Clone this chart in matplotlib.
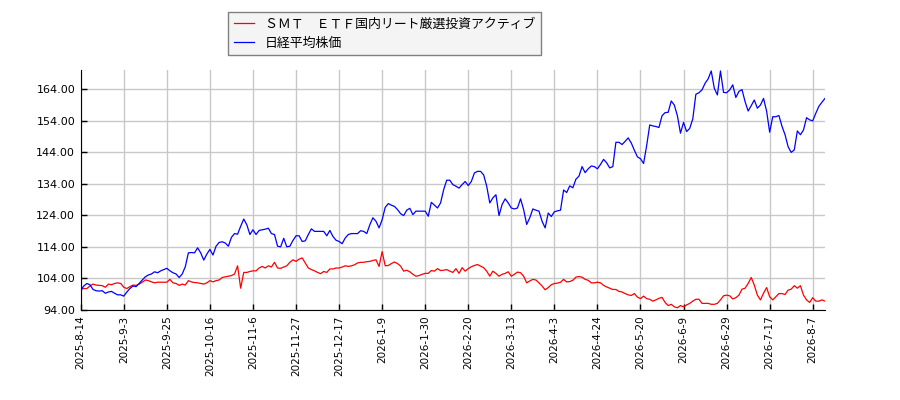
import matplotlib
matplotlib.use("Agg")
import matplotlib.pyplot as plt
import numpy as np

# data (trading-day index 0..242)
series_names = ["ＳＭＴ　ＥＴＦ国内リート厳選投資アクティブ", "日経平均株価"]

reit_values = [
    100.5, 100.8, 100.8, 101.6, 102.2, 101.9, 101.8, 101.7, 101.2, 102.2,
    102.0, 102.4, 102.6, 102.4, 101.2, 100.8, 101.4, 101.9, 101.8, 102.2,
    102.8, 103.5, 103.3, 102.9, 102.6, 102.8, 102.8, 102.8, 102.8, 103.7,
    102.6, 102.4, 101.8, 102.2, 101.9, 103.3, 102.9, 102.7, 102.6, 102.4,
    102.2, 102.6, 103.3, 102.9, 103.3, 103.5, 104.3, 104.5, 104.7, 104.9,
    105.4, 108.0, 100.9, 105.9, 105.9, 106.2, 106.4, 106.4, 107.3, 107.8,
    107.3, 108.0, 107.6, 109.1, 107.3, 107.2, 107.6, 108.0, 109.1, 109.9,
    109.4, 110.1, 110.5, 108.9, 107.3, 106.8, 106.4, 105.9, 105.5, 106.2,
    105.9, 107.0, 107.0, 107.3, 107.3, 107.6, 108.0, 107.8, 108.0, 108.3,
    108.9, 109.1, 109.1, 109.3, 109.4, 109.7, 109.9, 107.8, 112.5, 108.0,
    108.1, 108.7, 109.2, 108.7, 107.9, 106.3, 106.6, 106.1, 105.3, 104.7,
    104.9, 105.3, 105.6, 105.6, 106.5, 106.3, 107.1, 106.5, 106.6, 106.8,
    106.3, 105.9, 107.1, 105.6, 107.4, 106.3, 107.1, 107.7, 108.1, 108.4,
    107.9, 107.4, 106.3, 104.7, 106.3, 105.6, 104.7, 105.3, 105.6, 106.1,
    104.7, 105.3, 106.0, 105.8, 104.7, 102.6, 103.2, 103.7, 103.5, 102.6,
    101.6, 100.4, 101.1, 102.0, 102.4, 102.5, 102.8, 103.7, 102.9, 103.0,
    103.4, 104.4, 104.6, 104.4, 103.7, 103.4, 102.6, 102.6, 102.8, 102.6,
    101.8, 101.3, 100.9, 100.5, 100.5, 99.9, 99.7, 99.2, 98.8, 98.6,
    99.2, 98.1, 97.6, 98.4, 97.6, 97.4, 96.8, 97.2, 97.7, 98.0,
    96.4, 95.4, 95.8, 95.0, 94.7, 95.4, 95.0, 95.6, 96.1, 96.8,
    97.4, 97.4, 96.1, 96.1, 96.1, 95.8, 95.8, 96.1, 97.2, 98.5,
    98.7, 98.5, 97.5, 97.9, 98.7, 100.6, 100.9, 102.4, 104.3, 101.9,
    98.7, 97.2, 99.3, 101.1, 98.2, 97.2, 98.2, 99.2, 99.2, 98.9,
    100.3, 100.6, 101.7, 100.9, 101.7, 98.7, 97.2, 96.4, 97.9, 96.8,
    96.8, 97.2, 96.8,
]

nikkei_values = [
    100.3, 101.6, 102.4, 102.0, 100.5, 100.1, 100.0, 100.1, 99.3, 99.7,
    99.9, 99.3, 98.8, 98.8, 98.4, 99.7, 100.8, 101.6, 101.4, 102.4,
    103.5, 104.5, 105.1, 105.4, 106.1, 105.8, 106.4, 106.8, 107.2, 106.4,
    105.8, 105.4, 104.3, 105.4, 107.7, 112.1, 112.2, 112.1, 113.7, 112.1,
    109.8, 111.7, 113.2, 111.4, 114.2, 115.4, 115.6, 115.2, 114.2, 117.0,
    118.2, 118.0, 120.5, 122.8, 121.0, 117.9, 119.4, 117.9, 119.2, 119.4,
    119.6, 119.9, 118.2, 117.9, 114.2, 114.0, 116.7, 114.0, 114.2, 116.0,
    117.5, 117.5, 115.7, 115.9, 117.9, 119.7, 118.9, 118.9, 118.9, 118.9,
    117.5, 119.2, 117.3, 116.1, 115.7, 115.0, 116.8, 117.9, 118.2, 118.2,
    118.2, 119.1, 118.9, 118.2, 121.0, 123.2, 122.1, 120.0, 122.6, 126.5,
    127.7, 127.2, 126.8, 125.8, 124.5, 123.9, 125.6, 126.2, 124.2, 125.3,
    125.3, 125.3, 125.3, 123.7, 128.1, 127.2, 126.3, 127.9, 132.1, 135.1,
    135.1, 133.7, 133.2, 132.6, 133.7, 134.7, 133.4, 134.7, 137.4, 137.9,
    137.9, 136.8, 133.2, 127.9, 129.5, 130.5, 123.9, 127.4, 129.2, 127.9,
    126.3, 126.0, 126.3, 129.2, 125.8, 121.1, 123.2, 126.0, 125.6, 125.3,
    122.1, 120.0, 124.7, 123.6, 125.1, 125.4, 125.6, 132.0, 131.2, 133.3,
    132.7, 135.4, 136.4, 139.4, 137.5, 138.7, 139.6, 139.4, 138.7, 140.1,
    141.7, 140.6, 139.0, 139.4, 147.1, 147.1, 146.4, 147.4, 148.5, 146.9,
    144.6, 142.5, 141.9, 140.4, 146.0, 152.6, 152.3, 152.1, 151.8, 155.5,
    156.5, 156.6, 160.2, 158.9, 155.5, 150.0, 153.4, 150.5, 151.5, 154.5,
    162.3, 162.8, 163.7, 165.8, 167.2, 169.7, 164.2, 162.1, 169.7, 162.9,
    162.8, 163.7, 165.3, 161.3, 163.2, 163.8, 160.0, 157.0, 158.7, 160.5,
    157.9, 158.9, 161.0, 157.0, 150.3, 155.2, 155.2, 155.6, 152.2, 149.5,
    145.7, 143.9, 144.7, 150.7, 149.5, 151.0, 154.9, 154.2, 153.9, 156.3,
    158.5, 159.8, 161.0,
]

tick_labels = [
    "2025-8-14", "2025-9-3", "2025-9-25", "2025-10-16", "2025-11-6",
    "2025-11-27", "2025-12-17", "2026-1-9", "2026-1-30", "2026-2-20",
    "2026-3-13", "2026-4-3", "2026-4-24", "2026-5-20", "2026-6-9",
    "2026-6-29", "2026-7-17", "2026-8-7",
]
tick_step = 14
y_ticks = [94, 104, 114, 124, 134, 144, 154, 164]

x = np.arange(len(nikkei_values))

fig = plt.figure(figsize=(9, 4), dpi=100)
ax = fig.add_axes([0.0897, 0.225, 0.8270, 0.600])

l1, = ax.plot(x, reit_values, color="red", lw=0.9)
l2, = ax.plot(x, nikkei_values, color="blue", lw=0.9)

ax.set_xlim(0, len(x) - 1)
ax.set_ylim(94, 170)
ax.set_yticks(y_ticks)
ax.set_yticklabels([f"{v:.2f}" for v in y_ticks], fontsize=8)
ax.set_xticks(np.arange(len(tick_labels)) * tick_step)
ax.set_xticklabels(tick_labels, rotation=90, fontsize=7.5)
ax.tick_params(direction="in", length=4, width=1, pad=4)

ax.grid(True, color="#c8c8c8", lw=1)
ax.set_axisbelow(True)
ax.spines["top"].set_visible(False)
ax.spines["right"].set_visible(False)

leg = fig.legend(
    [l1, l2], series_names,
    loc="upper left", bbox_to_anchor=(0.2533, 0.97),
    prop={"family": ["Noto Sans CJK JP", "DejaVu Sans"], "size": 9.3},
    fancybox=False, edgecolor="#808080", facecolor="#f4f4f4", framealpha=1,
    handlelength=1.6, borderpad=0.45, labelspacing=0.45, borderaxespad=0,
)
leg.get_frame().set_linewidth(1)

fig.savefig("out.png", dpi=100)
